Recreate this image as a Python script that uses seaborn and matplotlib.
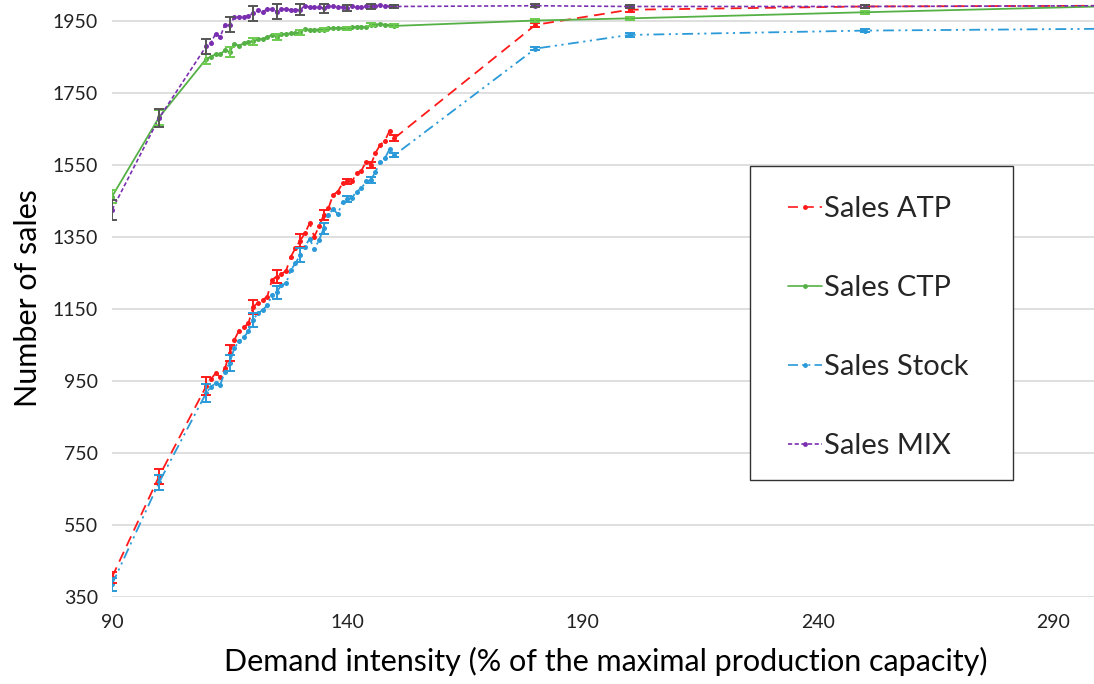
import numpy as np
import pandas as pd
import seaborn as sns
import matplotlib
matplotlib.use("Agg")
import matplotlib.pyplot as plt
from matplotlib.lines import Line2D
from matplotlib.patches import Rectangle

# Demand intensity levels (% of maximal production capacity)
demand = [90, 100, 110, 111, 112, 113, 114, 115, 116, 117, 118, 119, 120,
          121, 122, 123, 124, 125, 126, 127, 128, 129, 130, 131, 132, 133,
          134, 135, 136, 137, 138, 139, 140, 141, 142, 143, 144, 145, 146,
          147, 148, 149, 150, 180, 200, 250, 300]

sales_atp = [405, 685, 935, 955, 971, 962, 985, 1027, 1064, 1090, 1099, 1110,
             1156, 1167, 1175, 1184, 1231, 1240, 1247, 1256, 1295, 1319, 1340,
             1360, 1388, 1351, 1379, 1411, 1430, 1467, 1476, 1499, 1504, 1504,
             1527, 1534, 1559, 1550, 1583, 1606, 1617, 1645, 1624, 1939, 1981,
             1990, 1992]

sales_ctp = [1462, 1682, 1844, 1851, 1857, 1858, 1868, 1864, 1886, 1881, 1888,
             1892, 1893, 1899, 1900, 1905, 1911, 1906, 1913, 1914, 1915, 1915,
             1918, 1928, 1925, 1926, 1926, 1926, 1929, 1929, 1931, 1929, 1929,
             1932, 1934, 1934, 1932, 1939, 1939, 1942, 1939, 1939, 1936, 1951,
             1957, 1974, 1990]

sales_stock = [385, 668, 916, 934, 943, 939, 976, 1000, 1041, 1060, 1071, 1088,
               1120, 1138, 1147, 1160, 1188, 1197, 1216, 1221, 1258, 1277, 1300,
               1323, 1345, 1316, 1341, 1374, 1411, 1428, 1413, 1448, 1456, 1459,
               1476, 1485, 1504, 1508, 1531, 1557, 1568, 1594, 1577, 1873, 1911,
               1923, 1928]

sales_mix = [1425, 1680, 1879, 1888, 1914, 1906, 1939, 1939, 1960, 1962, 1962,
             1964, 1971, 1979, 1976, 1982, 1982, 1976, 1983, 1982, 1981, 1981,
             1981, 1992, 1988, 1988, 1988, 1985, 1992, 1990, 1988, 1988, 1985,
             1990, 1988, 1988, 1990, 1990, 1992, 1994, 1992, 1992, 1990, 1992,
             1990, 1990, 1992]

# Demand levels carrying error bars, with half-widths per strategy
err_demand = [90, 100, 110, 115, 120, 125, 130, 135, 140, 145, 150, 180, 200, 250, 300]
err_atp = [15, 20, 25, 22, 20, 17, 17, 14, 8, 8, 8, 6, 5, 4, 4]
err_ctp = [17, 20, 15, 14, 10, 8, 6, 5, 5, 4, 4, 4, 4, 4, 3]
err_stock = [18, 22, 25, 22, 20, 18, 20, 16, 8, 8, 6, 5, 5, 4, 4]
err_mix = [27, 26, 20, 21, 20, 20, 16, 12, 8, 7, 5, 4, 4, 3, 3]

series_names = ["Sales ATP", "Sales CTP", "Sales Stock", "Sales MIX"]
y_ticks = [350, 550, 750, 950, 1150, 1350, 1550, 1750, 1950]
x_ticks = [90, 140, 190, 240, 290]

sns.set_theme(style="white")
plt.rcParams["font.family"] = ["Lato", "DejaVu Sans"]

values = {"Sales ATP": sales_atp, "Sales CTP": sales_ctp,
          "Sales Stock": sales_stock, "Sales MIX": sales_mix}
errors = {"Sales ATP": err_atp, "Sales CTP": err_ctp,
          "Sales Stock": err_stock, "Sales MIX": err_mix}

df = pd.concat([pd.DataFrame({"demand": demand, "sales": values[n], "series": n})
                for n in series_names], ignore_index=True)

line_style = {
    "Sales ATP": dict(color="#FF1A1A", ls=(0, (6, 3.5)), lw=1.3, err="#FF1A1A"),
    "Sales CTP": dict(color="#55B146", ls="-", lw=1.3, err="#6CCB4E"),
    "Sales Stock": dict(color="#2A9AD8", ls=(0, (6, 2.5, 1.2, 2.5, 1.2, 2.5)), lw=1.3, err="#2A9AD8"),
    "Sales MIX": dict(color="#7A2FB0", ls=(0, (2.5, 1.5)), lw=1.2, err="#555555"),
}

W, H = 1094, 684
fig = plt.figure(figsize=(W / 100, H / 100), dpi=100)
ax = fig.add_axes([112 / W, 87 / H, 988 / W, 597 / H])

for name in series_names:
    st = line_style[name]
    sub = df[df["series"] == name]
    sns.lineplot(data=sub, x="demand", y="sales", ax=ax, color=st["color"],
                 linestyle=st["ls"], linewidth=st["lw"], marker="o",
                 markersize=3.6, markeredgewidth=0, legend=False, zorder=3)
    err_y = [values[name][demand.index(d)] for d in err_demand]
    ax.errorbar(err_demand, err_y, yerr=errors[name], fmt="none",
                ecolor=st["err"], elinewidth=1.4, capsize=3.5, capthick=1.4,
                zorder=4)

ax.set_xlim(90, 300)
ax.set_ylim(350, 2008)
ax.set_xticks(x_ticks)
ax.set_yticks(y_ticks)
ax.yaxis.grid(True, color="#D9D9D9", linewidth=1.2)
ax.xaxis.grid(False)
ax.set_axisbelow(True)
for sp in ax.spines.values():
    sp.set_visible(False)
ax.tick_params(axis="both", length=0, labelsize=14, colors="#222222")
ax.tick_params(axis="x", pad=12)
ax.tick_params(axis="y", pad=10)

ax.set_xlabel("Demand intensity (% of the maximal production capacity)",
              fontsize=22, labelpad=12, color="black")
ax.set_ylabel("Number of sales", fontsize=22, labelpad=8, color="black")

# Legend box drawn as a plain framed rectangle, entries placed inside it
frame = Rectangle((750 / W, 1 - 480 / H), 263 / W, 314 / H,
                  transform=fig.transFigure, facecolor="white",
                  edgecolor="#333333", linewidth=1.0, zorder=5)
fig.add_artist(frame)

handles = [Line2D([], [], color=line_style[n]["color"], linestyle=line_style[n]["ls"],
                  linewidth=1.2, marker="o", markersize=3.5, markeredgewidth=0)
           for n in series_names]
leg = fig.legend(handles, series_names, loc="upper left",
                 bbox_to_anchor=(788 / W, 1 - 196 / H),
                 fontsize=21, frameon=False, labelspacing=1.82, borderpad=0,
                 handlelength=1.15, handletextpad=0.1, borderaxespad=0)
leg.set_zorder(6)

fig.savefig("out.png", dpi=100)
